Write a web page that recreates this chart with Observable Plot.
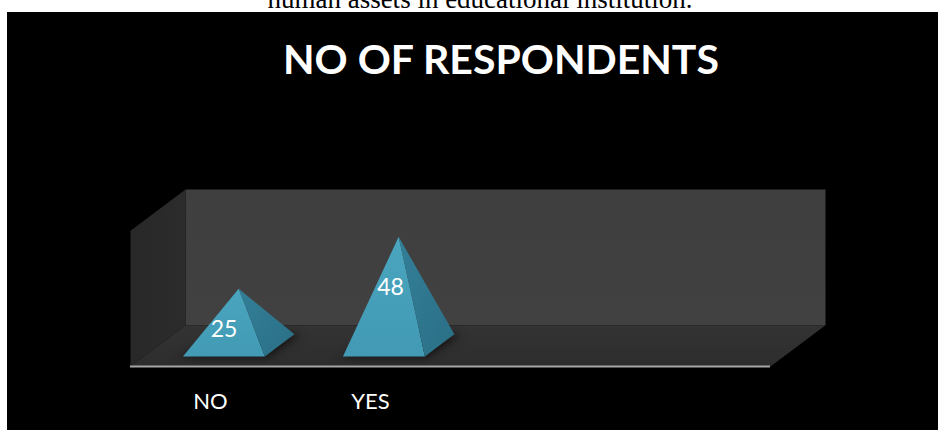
<!DOCTYPE html>
<html>
<head>
<meta charset="utf-8">
<script src="https://cdn.jsdelivr.net/npm/d3@7"></script>
<script src="https://cdn.jsdelivr.net/npm/@observablehq/plot@0.6"></script>
<style>
  html, body { margin: 0; padding: 0; background: #fff; overflow: hidden; }
  #note { height: 12px; overflow: hidden; position: relative; }
  #note span {
    position: absolute; left: 0; width: 960px; top: -16px; text-align: center;
    font: 27px/30px "Liberation Serif", serif; color: #000; white-space: nowrap;
  }
  #panel { position: relative; margin-left: 7px; width: 931px; height: 418px; background: #000; overflow: hidden; }
  #panel h2 {
    position: absolute; left: 276px; top: 19px; margin: 0; white-space: nowrap;
    font: 700 41px/56px Lato, sans-serif; color: #fff;
  }
  #panel svg { display: block; }
</style>
</head>
<body>
<div id="note"><span>human assets in educational institution.</span></div>
<div id="panel"><h2>NO OF RESPONDENTS</h2></div>
<script>
const categories = ["NO", "YES"];
const respondents = [25, 48];
const slotCount = 4;
const valueMax = 60;

// Oblique projection: going one full depth back shifts a point right (in slots) and up (in value units).
const depthSlots = 0.344;
const depthValue = 18.2;
const project = (slot, depth, value) => ({
  x: slot + depthSlots * depth,
  y: value + depthValue * depth
});

const polygon = (id, corners) =>
  corners.map(([s, d, v]) => ({id, ...project(s, d, v)}));

const backWall = polygon("back", [[0, 1, 0], [slotCount, 1, 0], [slotCount, 1, valueMax], [0, 1, valueMax]]);
const sideWall = polygon("side", [[0, 0, 0], [0, 1, 0], [0, 1, valueMax], [0, 0, valueMax]]);
const floor = polygon("floor", [[0, 0, 0], [slotCount, 0, 0], [slotCount, 1, 0], [0, 1, 0]]);

// Pyramid footprint within its slot
const halfWidth = 0.256, nearDepth = 0.244, farDepth = 0.78, midDepth = (nearDepth + farDepth) / 2;

const frontFaces = [], rightFaces = [], shadows = [];
respondents.forEach((v, i) => {
  const c = i + 0.5, l = c - halfWidth, r = c + halfWidth;
  frontFaces.push(...polygon(`f${i}`, [[l, nearDepth, 0], [r, nearDepth, 0], [c, midDepth, v]]));
  rightFaces.push(...polygon(`r${i}`, [[r, nearDepth, 0], [r, farDepth, 0], [c, midDepth, v]]));
  shadows.push(...polygon(`s${i}`, [
    [l - 0.03, nearDepth - 0.02, 0], [r + 0.02, nearDepth - 0.02, 0],
    [r + 0.04, farDepth, 0], [c, farDepth, 0]
  ]));
});

const valueLabels = categories.map((name, i) => ({
  text: String(respondents[i]),
  x: i + 0.5 + 0.04 + 0.00177 * respondents[i],
  y: respondents[i] * 0.796 - 3.5
}));

// Shared gradients for the walls and the pyramid faces
const gradients = () => {
  const svg = d3.create("svg:defs");
  const add = (id, x2, y2, stops) => {
    const g = svg.append("linearGradient").attr("id", id)
      .attr("x1", 0).attr("y1", 0).attr("x2", x2).attr("y2", y2);
    stops.forEach(([o, c]) => g.append("stop").attr("offset", o).attr("stop-color", c));
  };
  add("backFill", 0, 1, [[0, "#3f3f3f"], [1, "#414141"]]);
  add("sideFill", 1, 0, [[0, "#282828"], [1, "#2c2c2c"]]);
  add("floorFill", 0, 1, [[0, "#333333"], [1, "#2d2d2d"]]);
  add("frontFill", 0, 1, [[0, "#4aa5bf"], [1, "#429ab4"]]);
  add("rightFill", 1, 1, [[0, "#337f98"], [1, "#2a6f86"]]);
  return svg.node();
};

const face = (data, fill, extra = {}) =>
  Plot.line(data, {x: "x", y: "y", z: "id", fill, stroke: "none", ...extra});

const chart = Plot.plot({
  width: 931,
  height: 418,
  marginLeft: 123,
  marginRight: 113,
  marginTop: 177,
  marginBottom: 64,
  style: {background: "transparent", fontFamily: "Lato, sans-serif", color: "#fff"},
  x: {domain: [0, slotCount + depthSlots]},
  y: {domain: [0, valueMax + depthValue], axis: null},
  marks: [
    gradients,
    face(backWall, "url(#backFill)"),
    face(sideWall, "url(#sideFill)"),
    face(floor, "url(#floorFill)"),
    face(shadows, "#141010", {imageFilter: "blur(4px)"}),
    face(frontFaces, "url(#frontFill)"),
    face(rightFaces, "url(#rightFill)"),
    Plot.ruleY([0], {x1: 0, x2: slotCount, stroke: "#a6a6a6", strokeWidth: 2}),
    Plot.text(valueLabels, {x: "x", y: "y", text: "text", fill: "#fff", fontSize: 23}),
    Plot.axisX({
      ticks: categories.map((_, i) => i + 0.5),
      tickFormat: (d) => categories[d - 0.5],
      tickSize: 0,
      tickPadding: 27,
      fontSize: 22,
      label: null,
      stroke: "none",
      fill: "#fff"
    })
  ]
});
document.getElementById("panel").append(chart);
</script>
</body>
</html>
